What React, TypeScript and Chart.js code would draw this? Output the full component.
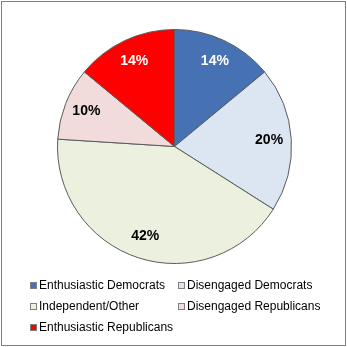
import React, { useEffect, useRef } from "react";
import { Chart, registerables } from "chart.js";

Chart.register(...registerables);

const categories = [
  "Enthusiastic Democrats",
  "Disengaged Democrats",
  "Independent/Other",
  "Disengaged Republicans",
  "Enthusiastic Republicans",
];
const values = [14, 20, 42, 10, 14];
const valueLabels = ["14%", "20%", "42%", "10%", "14%"];
const sliceColors = ["#4672B4", "#DCE6F2", "#EBF1DE", "#F2DCDB", "#FF0000"];
const labelColors = ["#FFFFFF", "#000000", "#000000", "#000000", "#FFFFFF"];
const legendColumns = [30, 178];
const legendRows = [285.5, 306.5, 327.5];

const FONT = "'Liberation Sans', Arial, sans-serif";

const labelPlugin = {
  id: "sliceLabels",
  afterDatasetsDraw(chart: any) {
    const ctx = chart.ctx;
    const meta = chart.getDatasetMeta(0);
    ctx.save();
    ctx.font = `bold 14px ${FONT}`;
    ctx.textAlign = "center";
    ctx.textBaseline = "middle";
    meta.data.forEach((arc: any, i: number) => {
      const { x, y, startAngle, endAngle, outerRadius } = arc.getProps(
        ["x", "y", "startAngle", "endAngle", "outerRadius"],
        true
      );
      const mid = (startAngle + endAngle) / 2;
      const r = outerRadius * 0.81;
      ctx.fillStyle = labelColors[i];
      ctx.fillText(valueLabels[i], x + Math.cos(mid) * r, y + Math.sin(mid) * r);
    });
    ctx.restore();
  },
};

const legendPlugin = {
  id: "gridLegend",
  afterDraw(chart: any) {
    const ctx = chart.ctx;
    ctx.save();
    ctx.font = `12px ${FONT}`;
    ctx.textBaseline = "middle";
    ctx.textAlign = "left";
    categories.forEach((name, i) => {
      const col = legendColumns[i % 2];
      const row = legendRows[Math.floor(i / 2)];
      ctx.fillStyle = sliceColors[i];
      ctx.fillRect(col, row - 3.5, 6, 6);
      ctx.strokeStyle = "#7f7f7f";
      ctx.lineWidth = 1;
      ctx.strokeRect(col + 0.5, row - 3, 6, 6);
      ctx.fillStyle = "#000000";
      ctx.fillText(name, col + 9, row);
    });
    ctx.restore();
  },
};

export default function App() {
  const ref = useRef<HTMLCanvasElement>(null);
  useEffect(() => {
    if (!ref.current) return;
    const chart = new Chart(ref.current, {
      type: "pie",
      data: {
        labels: categories,
        datasets: [
          {
            data: values,
            backgroundColor: sliceColors,
            borderColor: "#5a5a5a",
            borderWidth: 1,
          },
        ],
      },
      options: {
        responsive: false,
        animation: false,
        layout: { padding: { left: 57, top: 29, right: 55, bottom: 83 } },
        plugins: {
          legend: { display: false },
          tooltip: { enabled: false },
        },
      },
      plugins: [labelPlugin, legendPlugin],
    });
    return () => chart.destroy();
  }, []);
  return (
    <div style={{ position: "fixed", left: 0, top: 0, width: 347, height: 347, background: "#fff" }}>
      <canvas ref={ref} width={347} height={347} style={{ position: "absolute", left: 0, top: 0 }} />
      <div
        style={{
          position: "absolute",
          left: 1,
          top: 1,
          width: 345,
          height: 345,
          boxSizing: "border-box",
          border: "1px solid #808080",
          pointerEvents: "none",
        }}
      />
    </div>
  );
}
